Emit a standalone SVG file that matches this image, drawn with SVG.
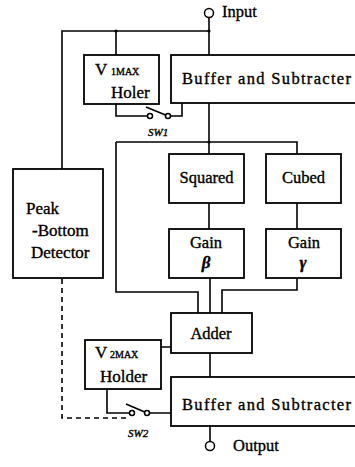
<svg xmlns="http://www.w3.org/2000/svg" width="355" height="467" viewBox="0 0 355 467">
<style>
.b{fill:#fff;stroke:#000;stroke-width:1.8}
.l{fill:none;stroke:#000;stroke-width:1.6}
.d{fill:none;stroke:#000;stroke-width:1.6;stroke-dasharray:5,4}
.c{fill:#fff;stroke:#000;stroke-width:1.5}
text{fill:#000;stroke:#000;stroke-width:0.35;font-family:'Liberation Serif','DejaVu Serif','Times New Roman',serif;font-size:16.5px}
</style>
<g id="connectors">
<path class="l" d="M209,18 V55 M62,169 V31 H209 M116,31 V55"/>
<path class="l" d="M209,103 V154 M116,142 H297 V154 M116,142 V292 H198 V313"/>
<path class="l" d="M209,203 V229 M297,203 V229 M210,278 V313 M297,278 V290 H222 V313"/>
<path class="l" d="M116,104 V116 H148 M170,116 H182 V103"/>
<path class="l" d="M168,116 L146,107"/>
<path class="l" d="M210,353 V377 M210,426 V441 M161,347 H171"/>
<path class="l" d="M107,389 V413 H130 M149,413 H171"/>
<path class="l" d="M147,413 L126,404"/>
<path class="d" d="M62,279 V418 H127"/>
<circle cx="116" cy="31" r="1.6"/>
<circle cx="209" cy="31" r="1.6"/>
<circle cx="209" cy="142" r="1.6"/>
<circle class="c" cx="150" cy="116" r="2.5"/>
<circle class="c" cx="168" cy="116" r="2.5"/>
<circle class="c" cx="132" cy="413" r="2.5"/>
<circle class="c" cx="147" cy="413" r="2.5"/>
<text x="148" y="136" style="font-size:11px;font-style:italic">SW1</text>
<text x="128" y="437" style="font-size:11px;font-style:italic">SW2</text>
</g>
<g id="input">
<circle class="c" cx="209" cy="13" r="4.5"/>
<text x="222" y="17">Input</text>
</g>
<g id="output">
<circle class="c" cx="210" cy="446" r="4.5"/>
<text x="233" y="451">Output</text>
</g>
<g id="v1max">
<rect class="b" x="84" y="55" width="75" height="49"/>
<text x="95" y="75" style="font-size:17px">V</text>
<text x="111" y="75" style="font-size:10px">1MAX</text>
<text x="111" y="98" style="font-size:17px">Holer</text>
</g>
<g id="buffer1">
<rect class="b" x="171" y="55" width="186" height="48"/>
<text x="182" y="84" textLength="169">Buffer and Subtracter</text>
</g>
<g id="peak">
<rect class="b" x="13" y="169" width="90" height="109"/>
<text x="26" y="214" style="font-size:17px">Peak</text>
<text x="32" y="236" style="font-size:17px">-Bottom</text>
<text x="31" y="258" style="font-size:17px">Detector</text>
</g>
<g id="squared">
<rect class="b" x="169" y="154" width="75" height="49"/>
<text x="206.5" y="183" text-anchor="middle">Squared</text>
</g>
<g id="cubed">
<rect class="b" x="266" y="154" width="75" height="49"/>
<text x="303.5" y="183" text-anchor="middle">Cubed</text>
</g>
<g id="gainb">
<rect class="b" x="169" y="229" width="75" height="49"/>
<text x="206" y="248" text-anchor="middle">Gain</text>
<text x="206" y="268" text-anchor="middle" style="font-size:17px;font-style:italic;font-weight:bold">β</text>
</g>
<g id="gaing">
<rect class="b" x="266" y="229" width="75" height="49"/>
<text x="304" y="248" text-anchor="middle">Gain</text>
<text x="303" y="268" text-anchor="middle" style="font-size:17px;font-style:italic;font-weight:bold">γ</text>
</g>
<g id="adder">
<rect class="b" x="171" y="313" width="81" height="40"/>
<text x="211" y="339" text-anchor="middle">Adder</text>
</g>
<g id="v2max">
<rect class="b" x="85" y="340" width="76" height="49"/>
<text x="95" y="358" style="font-size:17px">V</text>
<text x="110" y="358" style="font-size:10px">2MAX</text>
<text x="100" y="382" style="font-size:17px">Holder</text>
</g>
<g id="buffer2">
<rect class="b" x="171" y="377" width="186" height="49"/>
<text x="182" y="410" textLength="169">Buffer and Subtracter</text>
</g>
</svg>
